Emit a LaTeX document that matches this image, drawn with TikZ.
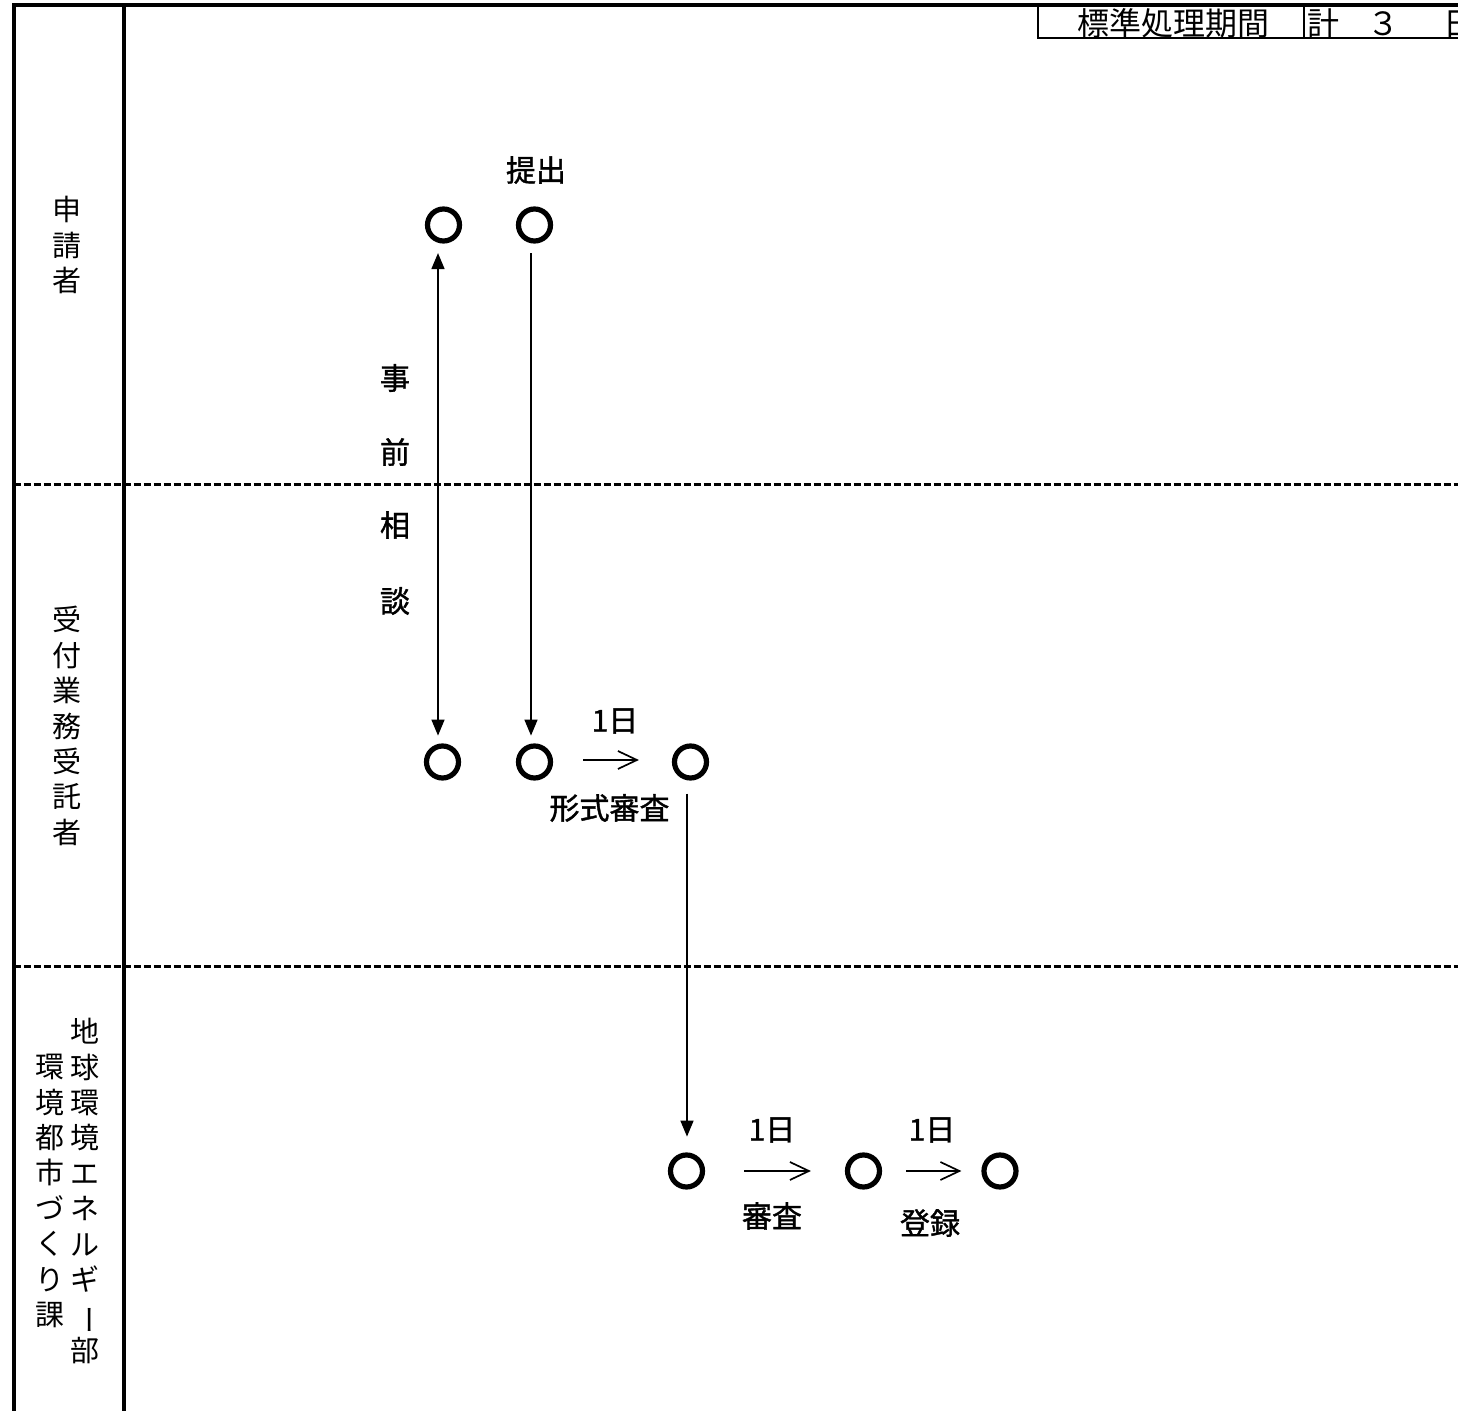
\documentclass[tikz,border=0pt]{standalone}
\usepackage{fontspec}
\usepackage{graphicx}
\setmainfont{Noto Sans CJK JP}
\newfontfamily\jpbold{Noto Sans CJK JP}[FakeBold=1.3]
\usetikzlibrary{arrows.meta}
\newcommand{\vbar}{\makebox[1em]{\rotatebox[origin=c]{-90}{ー}}}
\begin{document}
\begin{tikzpicture}[x=0.5pt,y=-0.5pt,
  frame/.style={line width=2pt},
  lanesep/.style={line width=1.5pt, dash pattern=on 3.5pt off 1.5pt},
  ev/.style={circle, draw, line width=2.6pt, minimum size=16pt, inner sep=0pt},
  flow/.style={line width=0.8pt, -{Triangle[length=8pt,width=6.5pt]}},
  nextarrow/.style={line width=0.85pt, -{Straight Barb[length=9.5pt,width=9pt]}},
  lbl/.style={font=\jpbold\fontsize{15}{17}\selectfont, inner sep=0pt},
  lanelbl/.style={font=\fontsize{14.5}{17.7}\selectfont, align=center, inner sep=0pt},
  hdr/.style={font=\fontsize{16}{18}\selectfont, inner sep=0pt}]
\useasboundingbox (0,0) rectangle (1458,1411);
\begin{scope}
\clip (0,0) rectangle (1458,1411);
\fill[white] (0,0) rectangle (1458,1411);

% frame
\draw[frame] (13.5,1415) -- (13.5,5) -- (1462,5);
\draw[frame] (123.5,5) -- (123.5,1415);
\draw[lanesep] (13.5,485) -- (1462,485);
\draw[lanesep] (13.5,967) -- (1462,967);

% header
\draw[line width=1.35pt] (1038,5) -- (1038,38) -- (1462,38);
\draw[line width=1pt] (1304,5) -- (1304,38);
\node[hdr] (h1) at (1173.5,23) {標準処理期間};
\node[hdr, anchor=west] (h2) at (1307,23) {計\kern14pt ３\kern22pt 日};

% lane labels
\node[lanelbl] (l1) at (67,245) {申\\請\\者};
\node[lanelbl] (l2) at (67,726) {受\\付\\業\\務\\受\\託\\者};
\node[lanelbl] (l3a) at (85,1191) {地\\球\\環\\境\\エ\\ネ\\ル\\ギ\\\vbar\\部};
\node[lanelbl] (l3b) at (50,1191) {環\\境\\都\\市\\づ\\く\\り\\課};

% events
\node[ev] (c1) at (443.5,225) {};
\node[ev] (c2) at (534.5,225) {};
\node[ev] (c3) at (442.5,762) {};
\node[ev] (c4) at (534.5,762) {};
\node[ev] (c5) at (690.5,762) {};
\node[ev] (c6) at (686.5,1171) {};
\node[ev] (c7) at (863.5,1171) {};
\node[ev] (c8) at (1000,1171) {};

% vertical arrows
\draw[flow, {Triangle[length=8pt,width=6.5pt]}-{Triangle[length=8pt,width=6.5pt]}, shorten <=4.75pt, shorten >=3.9pt]
  ([xshift=-2.75pt]c1.south) -- ([xshift=-2.25pt]c3.north);
\draw[flow, shorten <=4.75pt, shorten >=3.9pt]
  ([xshift=-1.75pt]c2.south) -- ([xshift=-1.75pt]c4.north);
\draw[flow, shorten <=6.5pt, shorten >=7.9pt]
  ([xshift=-1.75pt]c5.south) -- ([xshift=0.25pt]c6.north);

% horizontal arrows
\draw[nextarrow, shorten <=15pt, shorten >=16.5pt] ([yshift=1pt]c4.east) -- ([yshift=1pt]c5.west);
\draw[nextarrow, shorten <=19.6pt, shorten >=17pt] (c6.east) -- (c7.west);
\draw[nextarrow, shorten <=12pt, shorten >=10pt] (c7.east) -- (c8.west);

% labels
\node[lbl] (t1) at (536,170) {提出};
\node[lbl] (t2) at (615,721) {1日};
\node[lbl] (t3) at (609.5,808) {形式審査};
\node[lbl] (t4) at (772,1130) {1日};
\node[lbl] (t5) at (772,1216) {審査};
\node[lbl] (t6) at (932,1130) {1日};
\node[lbl] (t7) at (930,1223) {登録};
\node[lbl] (s1) at (395,378) {事};
\node[lbl] (s2) at (395,452) {前};
\node[lbl] (s3) at (395,525) {相};
\node[lbl] (s4) at (395,601) {談};
\end{scope}
\end{tikzpicture}
\end{document}
